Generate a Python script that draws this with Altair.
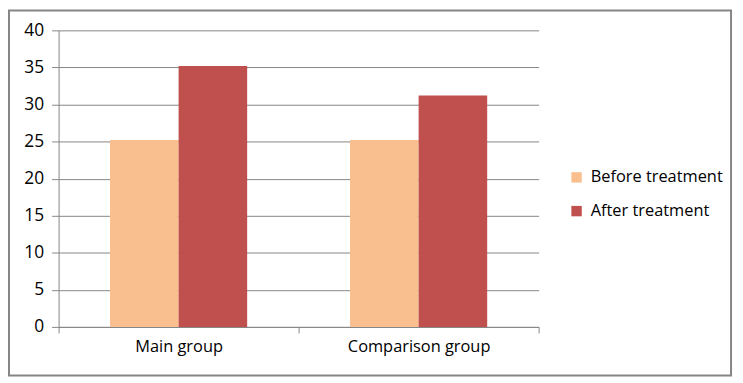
import altair as alt
import pandas as pd

groups = ["Main group", "Comparison group"]
series = ["Before treatment", "After treatment"]
before = [25.2, 25.2]
after = [35.2, 31.2]
colors = ["#F9BF8F", "#C0504D"]

rows = []
for g, b, a in zip(groups, before, after):
    rows.append({"group": g, "series": series[0], "value": b})
    rows.append({"group": g, "series": series[1], "value": a})
df = pd.DataFrame(rows)

FONT = "Open Sans"
GRAY = "#868686"

bars = alt.Chart(df).mark_bar().encode(
    x=alt.X("group:N", sort=groups, title=None,
            scale=alt.Scale(paddingInner=0, paddingOuter=0),
            axis=alt.Axis(labelAngle=0, tickBand="extent", tickSize=6,
                          labelPadding=6, labelFontSize=16.5, labelFont=FONT,
                          labelColor="#000000", domainColor=GRAY, tickColor=GRAY,
                          grid=False)),
    xOffset=alt.XOffset("series:N", sort=series,
                        scale=alt.Scale(paddingInner=0, paddingOuter=0.75)),
    y=alt.Y("value:Q", title=None,
            scale=alt.Scale(domain=[0, 40]),
            axis=alt.Axis(values=[0, 5, 10, 15, 20, 25, 30, 35, 40], tickSize=7,
                          labelPadding=8, labelFontSize=17.5, labelFont=FONT,
                          labelColor="#000000", domainColor=GRAY, tickColor=GRAY,
                          gridColor=GRAY, gridWidth=1)),
    color=alt.Color("series:N", sort=series, title=None,
                    scale=alt.Scale(domain=series, range=colors),
                    legend=alt.Legend(orient="none", legendX=514, legendY=140,
                                      symbolType="square", symbolSize=110,
                                      symbolStrokeWidth=0,
                                      labelFontSize=16.5, labelFont=FONT,
                                      labelColor="#000000", rowPadding=17,
                                      labelOffset=6)),
)

frame = alt.Chart(pd.DataFrame({"a": [0]})).mark_rect(
    fill=None, fillOpacity=0, stroke=GRAY, strokeWidth=2
).encode(
    x=alt.value(-50), x2=alt.value(678), y=alt.value(-20), y2=alt.value(348)
)

chart = alt.layer(frame, bars).properties(
    width=484, height=299,
    padding={"left": 51, "top": 21, "right": 198, "bottom": 52},
    autosize="none",
).configure_view(stroke=None)

chart.save("out.html", embed_options={"renderer": "svg", "actions": False})
